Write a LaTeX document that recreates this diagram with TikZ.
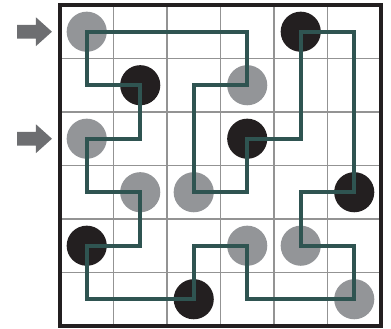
\documentclass[tikz,border=0pt]{standalone}
\usetikzlibrary{positioning}
\definecolor{loopteal}{HTML}{2F5451}
\definecolor{pearlgray}{HTML}{939598}
\definecolor{pearlblack}{HTML}{231F20}
\definecolor{arrowgray}{HTML}{6D6E71}
\tikzset{
  gridline/.style={draw=gray!85, line width=0.6pt},
  frame/.style={draw=pearlblack, line width=1.8pt},
  pearl/.style={circle, minimum size=0.75cm, inner sep=0pt},
  whitepearl/.style={pearl, fill=pearlgray},
  blackpearl/.style={pearl, fill=pearlblack},
  loopline/.style={draw=loopteal, line width=2.1pt, line join=miter},
  pointer/.pic={
    \fill[arrowgray] (0,0) -- (-0.3,0.27) -- (-0.3,0.13) -- (-0.65,0.13)
      -- (-0.65,-0.13) -- (-0.3,-0.13) -- (-0.3,-0.27) -- cycle;
  },
}

\begin{document}
\begin{tikzpicture}
  \useasboundingbox (-1.121,-0.056) rectangle (6.187,6.093);
  % grid
  \foreach \k in {1,...,5} {
    \draw[gridline] (\k,0) -- (\k,6);
    \draw[gridline] (0,\k) -- (6,\k);
  }
  % cell centres, column i, row j from the top
  \foreach \i in {0,...,5}
    \foreach \j in {0,...,5}
      \coordinate (c-\i-\j) at (\i+0.5,5.5-\j);
  % pearls
  \node[whitepearl] (w1) at (c-0-0) {};
  \node[blackpearl] (b1) at (c-4-0) {};
  \node[blackpearl] (b2) at (c-1-1) {};
  \node[whitepearl] (w2) at (c-3-1) {};
  \node[whitepearl] (w3) at (c-0-2) {};
  \node[blackpearl] (b3) at (c-3-2) {};
  \node[whitepearl] (w4) at (c-1-3) {};
  \node[whitepearl] (w5) at (c-2-3) {};
  \node[blackpearl] (b4) at (c-5-3) {};
  \node[blackpearl] (b5) at (c-0-4) {};
  \node[whitepearl] (w6) at (c-3-4) {};
  \node[whitepearl] (w7) at (c-4-4) {};
  \node[blackpearl] (b6) at (c-2-5) {};
  \node[whitepearl] (w8) at (c-5-5) {};
  % the loop
  \draw[loopline] (c-0-0) -- (c-0-1) -- (c-1-1) -- (c-1-2) -- (c-0-2)
    -- (c-0-3) -- (c-1-3) -- (c-1-4) -- (c-0-4) -- (c-0-5) -- (c-2-5)
    -- (c-2-4) -- (c-3-4) -- (c-3-5) -- (c-5-5) -- (c-5-4) -- (c-4-4)
    -- (c-4-3) -- (c-5-3) -- (c-5-0) -- (c-4-0) -- (c-4-2) -- (c-3-2)
    -- (c-3-3) -- (c-2-3) -- (c-2-1) -- (c-3-1) -- (c-3-0) -- cycle;
  % border
  \draw[frame] (0,0) rectangle (6,6);
  % entry arrows
  \pic at (-0.15,5.5) {pointer};
  \pic at (-0.15,3.5) {pointer};
\end{tikzpicture}
\end{document}
